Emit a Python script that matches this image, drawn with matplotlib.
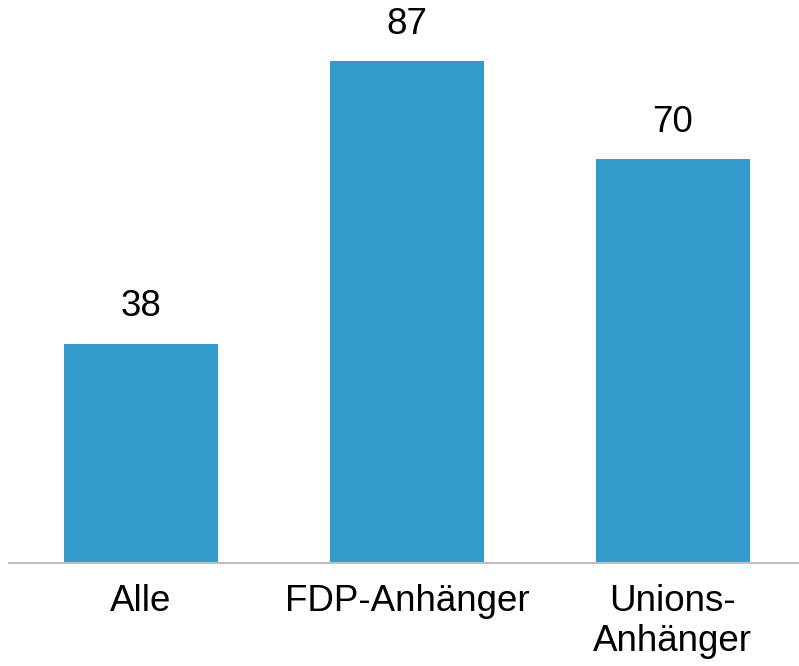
import matplotlib.pyplot as plt
import numpy as np

plt.rcParams['font.family'] = ['Liberation Sans', 'DejaVu Sans']

categories = ['Alle', 'FDP-Anhänger', 'Unions-\nAnhänger']
values     = [38, 87, 70]

bar_color  = '#339ccb'
line_color = '#bfbfbf'

fig = plt.figure(figsize=(7.99, 6.66), dpi=100)
ax = fig.add_axes([9 / 799, 103 / 666, 790 / 799, 563 / 666])

x = np.arange(len(categories))
bars = ax.bar(x, values, width=0.58, color=bar_color, zorder=2)

# value labels above bars
for xi, v in zip(x, values):
    ax.annotate(str(v), (xi, v), xytext=(0, 14), textcoords='offset points',
                ha='center', va='bottom', fontsize=26.5, color='black')

ax.set_xlim(-0.496, 2.474)
ax.set_ylim(0, 97.6)

ax.set_xticks(x)
ax.set_xticklabels(categories, fontsize=26.5, linespacing=1.2)
ax.tick_params(axis='x', length=0, pad=15)
ax.set_yticks([])

for side in ['top', 'right', 'left']:
    ax.spines[side].set_visible(False)
ax.spines['bottom'].set_color(line_color)
ax.spines['bottom'].set_linewidth(1.5)

fig.savefig('out.png', dpi=100)
